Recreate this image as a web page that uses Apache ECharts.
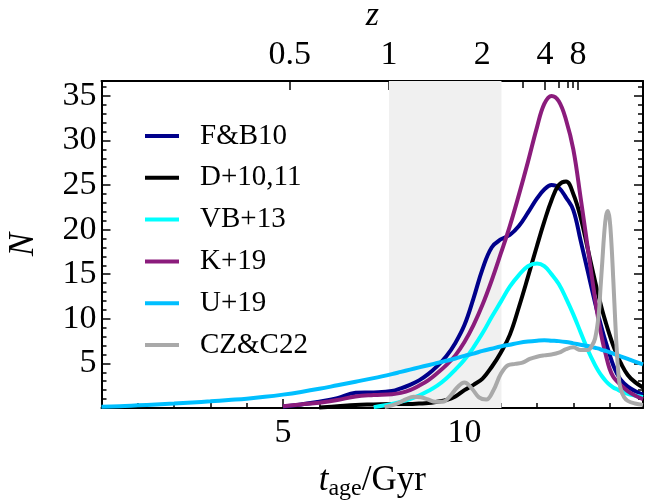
<!DOCTYPE html>
<html>
<head>
<meta charset="utf-8">
<script src="https://cdn.jsdelivr.net/npm/echarts@6/dist/echarts.min.js"></script>
<style>
  html, body { margin: 0; padding: 0; background: #fff; }
  #chart { width: 646px; height: 503px; }
</style>
</head>
<body>
<div id="chart"></div>
<script>
// shared age grid (Gyr) for the smooth curves
const tAge = [0, 0.5, 1, 1.5, 2, 2.5, 3, 3.5, 4, 4.5, 5, 5.5, 6, 6.5, 7, 7.5,
  8, 8.25, 8.5, 8.75, 9, 9.25, 9.5, 9.75, 10, 10.25, 10.5, 10.75, 11, 11.25, 11.5, 11.75,
  12, 12.2, 12.4, 12.6, 12.8, 13, 13.2, 13.4, 13.6, 13.7, 13.8, 13.9, 14, 14.1, 14.2, 14.3,
  14.5, 14.7, 14.92]

const fb10 = [null, null, null, null, null, null, null, null, null, null, 0.15, 0.4, 0.7, 1.1, 1.7, 1.75,
  1.9, 2.2, 2.6, 3.1, 3.8, 4.7, 5.8, 7.3, 9.3, 12.3, 15.6, 18.0, 18.9, 19.4, 20.4, 21.9,
  23.5, 24.5, 25.0, 24.7, 23.6, 22.2, 18.8, 15.3, 11.8, 10.2, 8.7, 7.3, 6.0, 4.8, 3.9, 3.2,
  2.4, 1.9, 1.5]

const d1011 = [null, null, null, null, null, null, null, null, null, null, null, null, 0.05, 0.2, 0.35, 0.4,
  0.45, 0.45, 0.45, 0.5, 0.55, 0.7, 0.9, 1.3, 2.0, 2.6, 3.3, 4.6, 6.2, 8.2, 11.3, 14.7,
  18.2, 20.9, 23.3, 25.0, 25.4, 24.0, 21.4, 17.8, 14.2, 12.5, 10.9, 9.5, 8.2, 7.0, 6.0, 5.1,
  3.7, 2.9, 2.3]

const vb13 = [null, null, null, null, null, null, null, null, null, null, null, null, null, null, null, 0.1,
  0.45, 0.7, 1.0, 1.4, 1.9, 2.5, 3.3, 4.3, 5.4, 6.8, 8.4, 10.2, 11.9, 13.6, 14.9, 15.9,
  16.2, 15.9, 15.0, 13.9, 12.3, 10.5, 8.5, 6.5, 4.8, 4.1, 3.5, 3.0, 2.6, 2.3, 2.1, 1.9,
  1.6, 1.4, 1.2]

const k19 = [null, null, null, null, null, null, null, null, null, null, 0.2, 0.4, 0.6, 0.9, 1.3, 1.45,
  1.55, 1.7, 2.0, 2.5, 3.1, 3.9, 4.8, 5.9, 7.4, 9.3, 11.6, 14.3, 17.3, 20.4, 23.9, 27.6,
  31.5, 34.1, 35.0, 34.4, 32.3, 29.0, 23.6, 17.9, 12.2, 9.7, 7.6, 5.9, 4.4, 3.5, 3.0, 2.6,
  1.9, 1.4, 1.0]

const u19 = [0.15, 0.2, 0.3, 0.4, 0.5, 0.62, 0.75, 0.9, 1.05, 1.25, 1.5, 1.8, 2.15, 2.55, 2.95, 3.35,
  3.8, 4.05, 4.3, 4.55, 4.8, 5.05, 5.3, 5.55, 5.85, 6.1, 6.4, 6.65, 6.9, 7.1, 7.3, 7.45,
  7.55, 7.6, 7.55, 7.5, 7.4, 7.25, 7.1, 6.95, 6.75, 6.65, 6.5, 6.4, 6.25, 6.1, 5.95, 5.8,
  5.5, 5.2, 4.9]

// CZ&C22 has a narrow spike, so it gets its own finer grid
const czcAge = [7.8, 8.0, 8.2, 8.4, 8.6, 8.8, 9.0, 9.2, 9.4, 9.6, 9.8, 10.0, 10.2, 10.4, 10.6, 10.8,
  11.0, 11.2, 11.4, 11.6, 11.8, 12.0, 12.2, 12.4, 12.6, 12.8, 13.0, 13.2, 13.4, 13.5, 13.6, 13.7,
  13.75, 13.8, 13.85, 13.9, 13.95, 14.0, 14.05, 14.1, 14.15, 14.2, 14.25, 14.3, 14.4, 14.5, 14.7, 14.92]
const czc22 = [0.1, 0.3, 0.6, 1.0, 1.25, 1.2, 0.95, 0.7, 0.7, 1.3, 2.3, 2.85, 2.2, 1.2, 0.95, 2.0,
  3.8, 4.8, 4.95, 5.1, 5.5, 5.75, 5.9, 6.0, 6.2, 6.6, 6.8, 6.5, 6.5, 6.9, 7.8, 10.5,
  13.5, 16.5, 19.5, 21.5, 22.1, 21.2, 18.5, 14.5, 10.2, 6.3, 3.5, 2.2, 1.2, 0.8, 0.5, 0.35]

const seriesNames = ['F&B10', 'D+10,11', 'VB+13', 'K+19', 'U+19', 'CZ&C22']
const seriesColors = ['#00008b', '#000000', '#00ffff', '#8b1c7c', '#00bfff', '#a9a9a9']

// redshift ticks on top, placed at their lookback time
const zLabels = ['0.5', '1', '2', '4', '8']
const zMajorAge = [5.19, 7.92, 10.49, 12.22, 13.13]
const zMinorAge = [11.62, 12.6, 12.85, 12.99]

const xMajorTicks = [5, 10]
const xMinorTicks = [1, 2, 3, 4, 6, 7, 8, 9, 11, 12, 13, 14]
const yMajorTicks = [5, 10, 15, 20, 25, 30, 35]
const yMinorTicks = [1, 2, 3, 4, 6, 7, 8, 9, 11, 12, 13, 14, 16, 17, 18, 19, 21, 22, 23, 24,
  26, 27, 28, 29, 31, 32, 33, 34, 36]

const shadedBand = [7.92, 11.02]

const X_MAX = 14.92
const Y_MAX = 36.67
const FONT = '"Liberation Serif", "DejaVu Serif", serif'
const TICK_FONT = 34

function pairs(xs, ys) {
  const out = []
  xs.forEach((x, i) => { if (ys[i] != null) out.push([x, ys[i]]) })
  return out
}

function tickAxis(extra) {
  return Object.assign({
    type: 'value',
    min: 0,
    max: X_MAX,
    splitLine: { show: false },
    axisLine: { show: false, onZero: false },
    axisLabel: { show: false },
    axisTick: { show: true, inside: true, lineStyle: { color: '#000', width: 1.5 } },
  }, extra)
}

const xAxes = [
  tickAxis({
    position: 'bottom',
    axisLine: { show: true, onZero: false, lineStyle: { color: '#000', width: 2 } },
    axisTick: { show: true, inside: true, length: 9, customValues: xMajorTicks, lineStyle: { color: '#000', width: 1.5 } },
    axisLabel: { show: true, customValues: xMajorTicks, margin: 8, color: '#000', fontSize: TICK_FONT, fontFamily: FONT },
    name: '{it|t}{sub|age}{n|/Gyr}',
    nameLocation: 'middle',
    nameGap: 53,
    nameTextStyle: {
      color: '#000',
      fontFamily: FONT,
      rich: {
        it: { fontStyle: 'italic', fontSize: 35, fontFamily: FONT, color: '#000', verticalAlign: 'middle', lineHeight: 40 },
        sub: { fontSize: 24, fontFamily: FONT, color: '#000', verticalAlign: 'bottom', lineHeight: 40 },
        n: { fontSize: 35, fontFamily: FONT, color: '#000', verticalAlign: 'middle', lineHeight: 40 },
      },
    },
  }),
  tickAxis({
    position: 'bottom',
    axisTick: { show: true, inside: true, length: 5, customValues: xMinorTicks, lineStyle: { color: '#000', width: 1.5 } },
  }),
  tickAxis({
    position: 'top',
    axisLine: { show: true, onZero: false, lineStyle: { color: '#000', width: 2 } },
    axisTick: { show: true, inside: true, length: 9, customValues: zMajorAge, lineStyle: { color: '#000', width: 1.5 } },
    axisLabel: {
      show: true, customValues: zMajorAge, margin: 9, color: '#000', fontSize: TICK_FONT, fontFamily: FONT,
      formatter: (v) => zLabels[zMajorAge.indexOf(v)],
    },
    name: 'z',
    nameLocation: 'middle',
    nameGap: 47,
    nameTextStyle: { color: '#000', fontSize: 34, fontStyle: 'italic', fontFamily: FONT },
  }),
  tickAxis({
    position: 'top',
    axisTick: { show: true, inside: true, length: 7, customValues: zMinorAge, lineStyle: { color: '#000', width: 1.5 } },
  }),
]

function yTickAxis(extra) {
  return Object.assign({
    type: 'value',
    min: 0,
    max: Y_MAX,
    splitLine: { show: false },
    axisLine: { show: false, onZero: false },
    axisLabel: { show: false },
  }, extra)
}

const yAxes = [
  yTickAxis({
    position: 'left',
    axisLine: { show: true, onZero: false, lineStyle: { color: '#000', width: 2 } },
    axisTick: { show: true, inside: true, length: 9, customValues: yMajorTicks, lineStyle: { color: '#000', width: 1.5 } },
    axisLabel: { show: true, customValues: yMajorTicks, margin: 5, color: '#000', fontSize: TICK_FONT, fontFamily: FONT },
    name: 'N',
    nameLocation: 'middle',
    nameGap: 60,
    nameTextStyle: { color: '#000', fontSize: 35, fontStyle: 'italic', fontFamily: FONT },
  }),
  yTickAxis({
    position: 'left',
    axisTick: { show: true, inside: true, length: 5, customValues: yMinorTicks, lineStyle: { color: '#000', width: 1.5 } },
  }),
  yTickAxis({
    position: 'right',
    axisLine: { show: true, onZero: false, lineStyle: { color: '#000', width: 2 } },
    axisTick: { show: true, inside: true, length: 9, customValues: yMajorTicks, lineStyle: { color: '#000', width: 1.5 } },
  }),
  yTickAxis({
    position: 'right',
    axisTick: { show: true, inside: true, length: 5, customValues: yMinorTicks, lineStyle: { color: '#000', width: 1.5 } },
  }),
]

const curveData = [
  pairs(tAge, fb10),
  pairs(tAge, d1011),
  pairs(tAge, vb13),
  pairs(tAge, k19),
  pairs(tAge, u19),
  pairs(czcAge, czc22),
]

const series = seriesNames.map((name, i) => ({
  name,
  type: 'line',
  xAxisIndex: 0,
  yAxisIndex: 0,
  data: curveData[i],
  showSymbol: false,
  smooth: 0.4,
  color: seriesColors[i],
  lineStyle: { color: seriesColors[i], width: 4 },
  z: 3 + i,
  silent: true,
}))

// light grey band between z = 1 and z ~ 2.5
series[0].markArea = {
  silent: true,
  itemStyle: { color: '#f0f0f0' },
  data: [[{ xAxis: shadedBand[0] }, { xAxis: shadedBand[1] }]],
}

const chart = echarts.init(document.getElementById('chart'))
chart.setOption({
  animation: false,
  backgroundColor: '#fff',
  grid: { left: 101.5, right: 3, top: 81, bottom: 95, containLabel: false, outerBoundsMode: 'none' },
  legend: {
    show: true,
    orient: 'vertical',
    left: 145,
    top: 121,
    padding: 0,
    icon: 'rect',
    itemWidth: 34,
    itemHeight: 4,
    itemGap: 11.8,
    selectedMode: false,
    data: seriesNames,
    textStyle: { color: '#000', fontSize: 29, fontFamily: FONT, lineHeight: 30, padding: [0, 0, 0, 16] },
  },
  xAxis: xAxes,
  yAxis: yAxes,
  series,
})
</script>
</body>
</html>
